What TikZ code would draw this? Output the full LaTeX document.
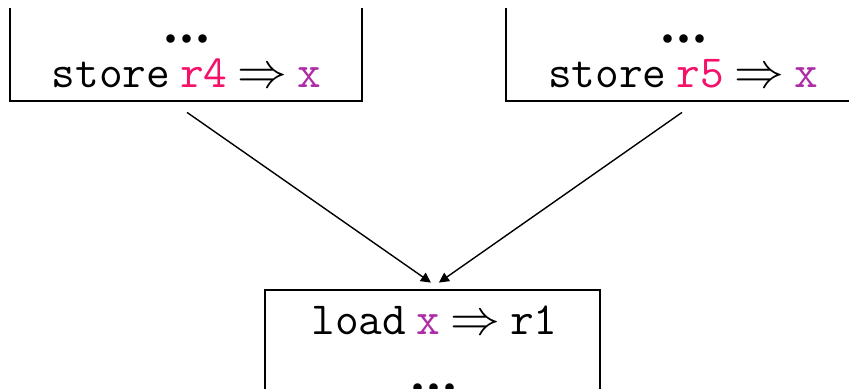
\documentclass[tikz,border=0pt]{standalone}
\usepackage{fontspec}
\setmainfont{Liberation Sans}
\newfontfamily\dotfont{Liberation Serif}
\usepackage{tikz}
\usetikzlibrary{arrows.meta}
\definecolor{regcol}{HTML}{F5106A}
\definecolor{varcol}{HTML}{AE2CA6}
\newcommand{\reg}[1]{\textcolor{regcol}{#1}}
\newcommand{\var}[1]{\textcolor{varcol}{#1}}
\newcommand{\gap}{\hspace{0.22em}}
\newcommand{\dotsline}{{\dotfont\bfseries.\kern0.06em.\kern0.06em.}}

\begin{document}
\begin{tikzpicture}[x=0.5pt,y=-0.5pt]
	\tikzset{
		box/.style={inner sep=0pt, minimum height=46.5pt},
		code/.style={inner sep=0pt, anchor=base,
			font=\ttfamily\fontsize{23}{28}\selectfont},
		more/.style={inner sep=0pt, anchor=base,
			font=\fontsize{26}{30}\selectfont},
		flow/.style={-{Triangle[length=5pt,width=5pt]}, line width=0.7pt},
		frame/.style={line width=1pt}
	}
	\useasboundingbox (0,0) rectangle (849,389);

	% the two stores
	\node[box, minimum width=176pt] (st4) at (186,54.5) {};
	\node[more] (st4dots) at (187,43) {\dotsline};
	\node[code] (st4code) at (186.5,88) {store\gap\reg{r4}\gap$\Rightarrow$\gap\var{x}};

	\node[box, minimum width=172pt] (st5) at (678,54.5) {};
	\node[more] (st5dots) at (684,43) {\dotsline};
	\node[code] (st5code) at (683,88) {store\gap\reg{r5}\gap$\Rightarrow$\gap\var{x}};

	% the load, open at the bottom
	\node[box, minimum width=167.5pt, minimum height=55pt] (ld) at (432.5,345) {};
	\node[code] (ldcode) at (434.5,334) {load\gap\var{x}\gap$\Rightarrow$\gap r1};
	\node[more] (lddots) at (434,391) {\dotsline};

	\draw[frame] (st4.north west) -- (st4.south west) -- (st4.south east) -- (st4.north east);
	\draw[frame] (st5.north west) -- (st5.south west) -- (st5.south east) -- (st5.north east);
	\draw[frame] (ld.south west) -- (ld.north west) -- (ld.north east) -- (ld.south east);

	\draw[flow] ([xshift=0.5pt,yshift=-5.5pt]st4.south) -- ([xshift=-0.8pt,yshift=3.5pt]ld.north);
	\draw[flow] ([xshift=2pt,yshift=-5.5pt]st5.south) -- ([xshift=3.2pt,yshift=3.5pt]ld.north);
\end{tikzpicture}
\end{document}
